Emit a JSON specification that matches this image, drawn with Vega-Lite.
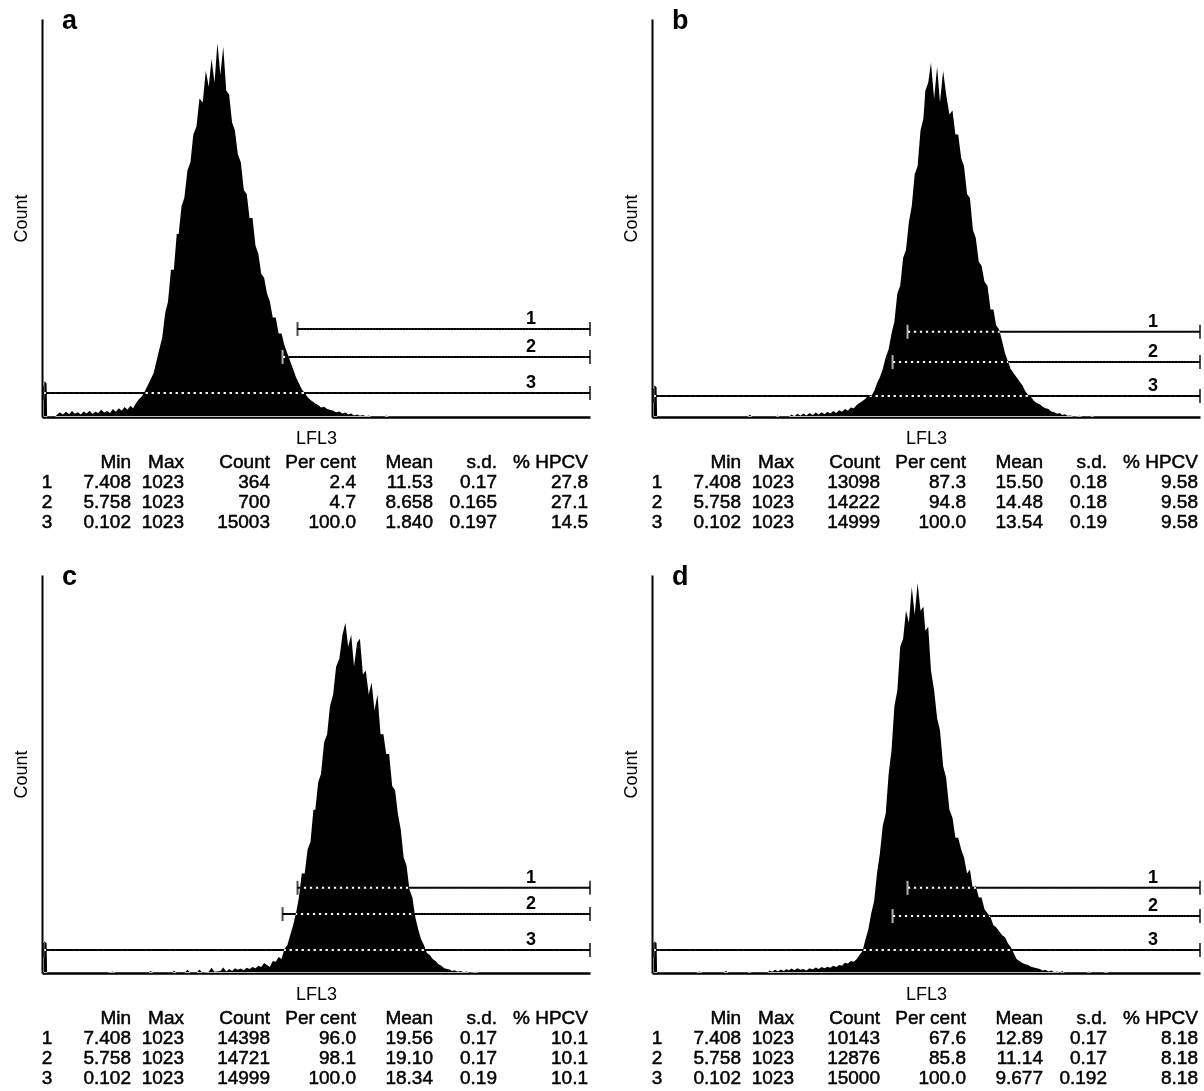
{
  "$schema": "https://vega.github.io/schema/vega-lite/v6.json",
  "background": "white",
  "padding": {"left": 12, "top": 7, "right": 2, "bottom": 2},
  "spacing": 31,
  "config": {
    "view": {"stroke": null},
    "font": "Liberation Sans",
    "axis": {"ticks": false, "labels": false, "grid": false, "domainColor": "black", "titleFontSize": 18, "titleFontWeight": "normal", "titleColor": "black", "titleFont": "Liberation Sans", "zindex": 1},
    "axisX": {"domainWidth": 2.5, "titlePadding": 12},
    "axisY": {"domainWidth": 2, "titlePadding": 12},
    "title": {"font": "Liberation Sans", "fontSize": 27, "fontWeight": "bold", "color": "black", "anchor": "start", "frame": "group", "dx": 20, "offset": -16, "baseline": "alphabetic"},
    "text": {"font": "Liberation Sans", "color": "black"}
  },
  "datasets": {
    "cols": [{"k":"n","ci":0},{"k":"min","ci":1},{"k":"max","ci":2},{"k":"cnt","ci":3},{"k":"pct","ci":4},{"k":"mean","ci":5},{"k":"sd","ci":6},{"k":"cv","ci":7}],
    "ga": [{"g":"1","min":7.408,"max":1023,"lvl":22.1},{"g":"2","min":5.758,"max":1023,"lvl":15.1},{"g":"3","min":0.102,"max":1023,"lvl":6.0}],
    "gb": [{"g":"1","min":7.408,"max":1023,"lvl":21.4},{"g":"2","min":5.758,"max":1023,"lvl":13.8},{"g":"3","min":0.102,"max":1023,"lvl":5.3}],
    "gc": [{"g":"1","min":7.408,"max":1023,"lvl":21.4},{"g":"2","min":5.758,"max":1023,"lvl":14.8},{"g":"3","min":0.102,"max":1023,"lvl":5.8}],
    "gd": [{"g":"1","min":7.408,"max":1023,"lvl":21.4},{"g":"2","min":5.758,"max":1023,"lvl":14.3},{"g":"3","min":0.102,"max":1023,"lvl":5.8}],
    "sa": [
      {"r":"h","n":"","min":"Min","max":"Max","cnt":"Count","pct":"Per cent","mean":"Mean","sd":"s.d.","cv":"% HPCV"},
      {"r":"1","n":"1","min":"7.408","max":"1023","cnt":"364","pct":"2.4","mean":"11.53","sd":"0.17","cv":"27.8"},
      {"r":"2","n":"2","min":"5.758","max":"1023","cnt":"700","pct":"4.7","mean":"8.658","sd":"0.165","cv":"27.1"},
      {"r":"3","n":"3","min":"0.102","max":"1023","cnt":"15003","pct":"100.0","mean":"1.840","sd":"0.197","cv":"14.5"}
    ],
    "sb": [
      {"r":"h","n":"","min":"Min","max":"Max","cnt":"Count","pct":"Per cent","mean":"Mean","sd":"s.d.","cv":"% HPCV"},
      {"r":"1","n":"1","min":"7.408","max":"1023","cnt":"13098","pct":"87.3","mean":"15.50","sd":"0.18","cv":"9.58"},
      {"r":"2","n":"2","min":"5.758","max":"1023","cnt":"14222","pct":"94.8","mean":"14.48","sd":"0.18","cv":"9.58"},
      {"r":"3","n":"3","min":"0.102","max":"1023","cnt":"14999","pct":"100.0","mean":"13.54","sd":"0.19","cv":"9.58"}
    ],
    "sc": [
      {"r":"h","n":"","min":"Min","max":"Max","cnt":"Count","pct":"Per cent","mean":"Mean","sd":"s.d.","cv":"% HPCV"},
      {"r":"1","n":"1","min":"7.408","max":"1023","cnt":"14398","pct":"96.0","mean":"19.56","sd":"0.17","cv":"10.1"},
      {"r":"2","n":"2","min":"5.758","max":"1023","cnt":"14721","pct":"98.1","mean":"19.10","sd":"0.17","cv":"10.1"},
      {"r":"3","n":"3","min":"0.102","max":"1023","cnt":"14999","pct":"100.0","mean":"18.34","sd":"0.19","cv":"10.1"}
    ],
    "sd": [
      {"r":"h","n":"","min":"Min","max":"Max","cnt":"Count","pct":"Per cent","mean":"Mean","sd":"s.d.","cv":"% HPCV"},
      {"r":"1","n":"1","min":"7.408","max":"1023","cnt":"10143","pct":"67.6","mean":"12.89","sd":"0.17","cv":"8.18"},
      {"r":"2","n":"2","min":"5.758","max":"1023","cnt":"12876","pct":"85.8","mean":"11.14","sd":"0.17","cv":"8.18"},
      {"r":"3","n":"3","min":"0.102","max":"1023","cnt":"15000","pct":"100.0","mean":"9.677","sd":"0.192","cv":"8.18"}
    ],
    "ha": [{"v":0.1,"n":0},{"v":0.103,"n":0},{"v":0.104,"n":9},{"v":0.108,"n":8.5},{"v":0.109,"n":0},{"v":0.125,"n":0},{"v":0.128,"n":0.5},{"v":0.135,"n":1.2},{"v":0.142,"n":0.6},{"v":0.15,"n":1.3},{"v":0.158,"n":0.7},{"v":0.166,"n":1.5},{"v":0.174,"n":0.8},{"v":0.183,"n":1.2},{"v":0.192,"n":0.6},{"v":0.202,"n":1.4},{"v":0.212,"n":0.9},{"v":0.223,"n":1.6},{"v":0.234,"n":0.8},{"v":0.246,"n":1.3},{"v":0.258,"n":1.0},{"v":0.271,"n":1.8},{"v":0.285,"n":1.1},{"v":0.3,"n":1.5},{"v":0.315,"n":1.0},{"v":0.33,"n":2.0},{"v":0.347,"n":1.3},{"v":0.365,"n":2.2},{"v":0.383,"n":1.6},{"v":0.402,"n":2.5},{"v":0.422,"n":1.8},{"v":0.443,"n":2.8},{"v":0.465,"n":2.2},{"v":0.488,"n":3.5},{"v":0.513,"n":4.5},{"v":0.539,"n":5.2},{"v":0.566,"n":6.5},{"v":0.594,"n":8},{"v":0.624,"n":9.5},{"v":0.655,"n":11},{"v":0.688,"n":14},{"v":0.722,"n":17},{"v":0.758,"n":20},{"v":0.796,"n":26},{"v":0.836,"n":29},{"v":0.878,"n":37},{"v":0.922,"n":37},{"v":0.968,"n":46},{"v":1.0,"n":46},{"v":1.05,"n":53},{"v":1.1,"n":55},{"v":1.16,"n":62},{"v":1.22,"n":64},{"v":1.28,"n":71},{"v":1.35,"n":73},{"v":1.42,"n":80},{"v":1.5,"n":79},{"v":1.58,"n":87},{"v":1.66,"n":83},{"v":1.74,"n":90},{"v":1.83,"n":84},{"v":1.92,"n":94},{"v":2.02,"n":86},{"v":2.12,"n":93},{"v":2.23,"n":82},{"v":2.34,"n":81},{"v":2.46,"n":74},{"v":2.58,"n":72},{"v":2.71,"n":66},{"v":2.85,"n":64},{"v":3.0,"n":57},{"v":3.15,"n":56},{"v":3.3,"n":50},{"v":3.47,"n":50},{"v":3.65,"n":43},{"v":3.83,"n":41},{"v":4.02,"n":36},{"v":4.22,"n":35},{"v":4.43,"n":31},{"v":4.65,"n":29},{"v":4.88,"n":25},{"v":5.13,"n":25},{"v":5.39,"n":21},{"v":5.66,"n":21},{"v":5.94,"n":18},{"v":6.24,"n":16},{"v":6.55,"n":14},{"v":6.88,"n":12},{"v":7.22,"n":10},{"v":7.58,"n":8.5},{"v":7.96,"n":7},{"v":8.36,"n":6},{"v":8.78,"n":5},{"v":9.22,"n":4.3},{"v":9.68,"n":3.8},{"v":10,"n":3.3},{"v":10.5,"n":3.0},{"v":11,"n":2.4},{"v":11.6,"n":2.6},{"v":12.2,"n":2.0},{"v":12.8,"n":1.8},{"v":13.5,"n":1.6},{"v":14.2,"n":1.2},{"v":15,"n":1.4},{"v":15.8,"n":0.9},{"v":16.6,"n":1.1},{"v":17.4,"n":0.6},{"v":18.3,"n":0.9},{"v":19.2,"n":0.4},{"v":20.2,"n":0.6},{"v":21.2,"n":0.3},{"v":22.3,"n":0.5},{"v":23.4,"n":0.2},{"v":24.6,"n":0.4},{"v":25.8,"n":0},{"v":32,"n":0},{"v":33,"n":0.4},{"v":34.7,"n":0},{"v":1023,"n":0}],
    "hb": [{"v":0.1,"n":0},{"v":0.103,"n":0},{"v":0.104,"n":8},{"v":0.108,"n":7.5},{"v":0.109,"n":0},{"v":0.5,"n":0},{"v":0.52,"n":0.6},{"v":0.54,"n":0},{"v":0.8,"n":0},{"v":0.83,"n":0.4},{"v":0.86,"n":0},{"v":1.0,"n":0},{"v":1.05,"n":0.6},{"v":1.1,"n":0.2},{"v":1.16,"n":0.8},{"v":1.22,"n":0.3},{"v":1.28,"n":0.9},{"v":1.35,"n":0.4},{"v":1.42,"n":1.0},{"v":1.5,"n":0.5},{"v":1.58,"n":1.1},{"v":1.66,"n":0.6},{"v":1.74,"n":1.2},{"v":1.83,"n":0.7},{"v":1.92,"n":1.3},{"v":2.02,"n":0.9},{"v":2.12,"n":1.5},{"v":2.23,"n":1.0},{"v":2.34,"n":1.7},{"v":2.46,"n":1.3},{"v":2.58,"n":2.0},{"v":2.71,"n":1.6},{"v":2.85,"n":2.4},{"v":3.0,"n":2.2},{"v":3.15,"n":3.0},{"v":3.3,"n":3.5},{"v":3.47,"n":4.0},{"v":3.65,"n":4.6},{"v":3.83,"n":5.5},{"v":4.02,"n":5.2},{"v":4.22,"n":6.5},{"v":4.43,"n":8.5},{"v":4.65,"n":10},{"v":4.88,"n":12},{"v":5.13,"n":15},{"v":5.39,"n":17},{"v":5.66,"n":21},{"v":5.94,"n":24},{"v":6.24,"n":31},{"v":6.55,"n":33},{"v":6.88,"n":40},{"v":7.22,"n":42},{"v":7.58,"n":49},{"v":7.96,"n":53},{"v":8.36,"n":61},{"v":8.78,"n":63},{"v":9.22,"n":72},{"v":9.68,"n":75},{"v":10,"n":82},{"v":10.5,"n":84},{"v":11,"n":89},{"v":11.6,"n":80},{"v":12.2,"n":88},{"v":12.8,"n":79},{"v":13.5,"n":87},{"v":14.2,"n":81},{"v":15,"n":76},{"v":15.8,"n":77},{"v":16.6,"n":71},{"v":17.4,"n":71},{"v":18.3,"n":65},{"v":19.2,"n":63},{"v":20.2,"n":56},{"v":21.2,"n":55},{"v":22.3,"n":47},{"v":23.4,"n":45},{"v":24.6,"n":39},{"v":25.8,"n":38},{"v":27.1,"n":34},{"v":28.5,"n":33},{"v":30,"n":27},{"v":31.5,"n":27},{"v":33,"n":23},{"v":34.7,"n":22},{"v":36.5,"n":19},{"v":38.3,"n":16},{"v":40.2,"n":14},{"v":42.2,"n":12},{"v":44.3,"n":11},{"v":46.5,"n":10},{"v":48.8,"n":9},{"v":51.3,"n":8},{"v":53.9,"n":6.5},{"v":56.6,"n":5.5},{"v":59.4,"n":5},{"v":62.4,"n":4},{"v":65.5,"n":3.5},{"v":68.8,"n":3.2},{"v":72.2,"n":2.6},{"v":75.8,"n":2.2},{"v":79.6,"n":2.0},{"v":83.6,"n":1.4},{"v":87.8,"n":1.2},{"v":92.2,"n":0.8},{"v":96.8,"n":1.0},{"v":100,"n":0.5},{"v":105,"n":0.7},{"v":110,"n":0.3},{"v":116,"n":0.4},{"v":122,"n":0},{"v":135,"n":0.3},{"v":142,"n":0},{"v":160,"n":0},{"v":166,"n":0.3},{"v":174,"n":0},{"v":1023,"n":0}],
    "hc": [{"v":0.1,"n":0},{"v":0.103,"n":0},{"v":0.104,"n":8},{"v":0.108,"n":7.5},{"v":0.109,"n":0},{"v":0.3,"n":0},{"v":0.33,"n":0.4},{"v":0.347,"n":0},{"v":0.6,"n":0},{"v":0.624,"n":0.5},{"v":0.655,"n":0},{"v":0.9,"n":0},{"v":0.922,"n":0.6},{"v":0.968,"n":0},{"v":1.1,"n":0},{"v":1.16,"n":0.8},{"v":1.22,"n":0},{"v":1.35,"n":0},{"v":1.42,"n":0.9},{"v":1.5,"n":0},{"v":1.66,"n":0.3},{"v":1.74,"n":1.3},{"v":1.83,"n":0.3},{"v":2.02,"n":0.5},{"v":2.12,"n":1.4},{"v":2.23,"n":0.4},{"v":2.34,"n":1.0},{"v":2.46,"n":0.5},{"v":2.58,"n":1.2},{"v":2.71,"n":0.8},{"v":2.85,"n":1.1},{"v":3.0,"n":0.7},{"v":3.15,"n":1.3},{"v":3.3,"n":1.0},{"v":3.47,"n":1.5},{"v":3.65,"n":1.2},{"v":3.83,"n":1.8},{"v":4.02,"n":1.5},{"v":4.22,"n":2.5},{"v":4.43,"n":2.0},{"v":4.65,"n":1.5},{"v":4.88,"n":3.0},{"v":5.13,"n":2.8},{"v":5.39,"n":4},{"v":5.66,"n":3.5},{"v":5.94,"n":6},{"v":6.24,"n":7},{"v":6.55,"n":9.5},{"v":6.88,"n":12},{"v":7.22,"n":15},{"v":7.58,"n":19},{"v":7.96,"n":25},{"v":8.36,"n":25},{"v":8.78,"n":31},{"v":9.22,"n":33},{"v":9.68,"n":41},{"v":10,"n":41},{"v":10.5,"n":48},{"v":11,"n":50},{"v":11.6,"n":58},{"v":12.2,"n":60},{"v":12.8,"n":67},{"v":13.5,"n":70},{"v":14.2,"n":77},{"v":15,"n":79},{"v":15.8,"n":85},{"v":16.6,"n":88},{"v":17.4,"n":82},{"v":18.3,"n":85},{"v":19.2,"n":77},{"v":20.2,"n":83},{"v":21.2,"n":84},{"v":22.3,"n":75},{"v":23.4,"n":76},{"v":24.6,"n":70},{"v":25.8,"n":73},{"v":27.1,"n":66},{"v":28.5,"n":70},{"v":30,"n":60},{"v":31.5,"n":60},{"v":33,"n":55},{"v":34.7,"n":55},{"v":36.5,"n":47},{"v":38.3,"n":46},{"v":40.2,"n":40},{"v":42.2,"n":36},{"v":44.3,"n":29},{"v":46.5,"n":27},{"v":48.8,"n":21},{"v":51.3,"n":19},{"v":53.9,"n":14},{"v":56.6,"n":11},{"v":59.4,"n":8.5},{"v":62.4,"n":7},{"v":65.5,"n":5},{"v":68.8,"n":4.5},{"v":72.2,"n":3.5},{"v":75.8,"n":3.0},{"v":79.6,"n":2.2},{"v":83.6,"n":1.8},{"v":87.8,"n":1.2},{"v":92.2,"n":1.0},{"v":96.8,"n":0.8},{"v":100,"n":0.5},{"v":105,"n":0.7},{"v":110,"n":0.3},{"v":116,"n":0.5},{"v":122,"n":0.2},{"v":128,"n":0.4},{"v":135,"n":0},{"v":150,"n":0.3},{"v":158,"n":0},{"v":1023,"n":0}],
    "hd": [{"v":0.1,"n":0},{"v":0.103,"n":0},{"v":0.104,"n":8},{"v":0.108,"n":7.5},{"v":0.109,"n":0},{"v":0.21,"n":0},{"v":0.223,"n":0.4},{"v":0.234,"n":0},{"v":0.33,"n":0},{"v":0.347,"n":0.5},{"v":0.365,"n":0},{"v":0.5,"n":0},{"v":0.513,"n":0.3},{"v":0.539,"n":0},{"v":0.7,"n":0},{"v":0.722,"n":0.6},{"v":0.758,"n":0.3},{"v":0.796,"n":0.8},{"v":0.836,"n":0.4},{"v":0.878,"n":0.9},{"v":0.922,"n":0.5},{"v":0.968,"n":1.0},{"v":1.0,"n":0.6},{"v":1.05,"n":1.1},{"v":1.1,"n":0.7},{"v":1.16,"n":1.2},{"v":1.22,"n":0.8},{"v":1.28,"n":1.0},{"v":1.35,"n":0.6},{"v":1.42,"n":1.2},{"v":1.5,"n":0.9},{"v":1.58,"n":1.4},{"v":1.66,"n":1.0},{"v":1.74,"n":1.5},{"v":1.83,"n":1.2},{"v":1.92,"n":1.6},{"v":2.02,"n":1.3},{"v":2.12,"n":1.8},{"v":2.23,"n":1.5},{"v":2.34,"n":2.0},{"v":2.46,"n":1.8},{"v":2.58,"n":2.6},{"v":2.71,"n":2.4},{"v":2.85,"n":3.0},{"v":3.0,"n":2.8},{"v":3.15,"n":3.5},{"v":3.3,"n":4.5},{"v":3.47,"n":5.5},{"v":3.65,"n":8.5},{"v":3.83,"n":11},{"v":4.02,"n":15},{"v":4.22,"n":18},{"v":4.43,"n":25},{"v":4.65,"n":30},{"v":4.88,"n":37},{"v":5.13,"n":40},{"v":5.39,"n":50},{"v":5.66,"n":56},{"v":5.94,"n":67},{"v":6.24,"n":71},{"v":6.55,"n":82},{"v":6.88,"n":84},{"v":7.22,"n":91},{"v":7.58,"n":88},{"v":7.96,"n":97},{"v":8.36,"n":90},{"v":8.78,"n":98},{"v":9.22,"n":91},{"v":9.68,"n":92},{"v":10,"n":86},{"v":10.5,"n":87},{"v":11,"n":76},{"v":11.6,"n":71},{"v":12.2,"n":64},{"v":12.8,"n":61},{"v":13.5,"n":52},{"v":14.2,"n":49},{"v":15,"n":41},{"v":15.8,"n":39},{"v":16.6,"n":34},{"v":17.4,"n":34},{"v":18.3,"n":31},{"v":19.2,"n":29},{"v":20.2,"n":25},{"v":21.2,"n":26},{"v":22.3,"n":21},{"v":23.4,"n":22},{"v":24.6,"n":19},{"v":25.8,"n":19},{"v":27.1,"n":16},{"v":28.5,"n":15},{"v":30,"n":14},{"v":31.5,"n":12},{"v":33,"n":11.5},{"v":34.7,"n":10.5},{"v":36.5,"n":9.5},{"v":38.3,"n":9},{"v":40.2,"n":7.5},{"v":42.2,"n":6.5},{"v":44.3,"n":5},{"v":46.5,"n":3.5},{"v":48.8,"n":3},{"v":51.3,"n":2.5},{"v":53.9,"n":2.2},{"v":56.6,"n":2.0},{"v":59.4,"n":1.6},{"v":62.4,"n":1.4},{"v":65.5,"n":1.2},{"v":68.8,"n":1.0},{"v":72.2,"n":0.6},{"v":75.8,"n":0.8},{"v":79.6,"n":0.4},{"v":83.6,"n":0.6},{"v":87.8,"n":0.2},{"v":92.2,"n":0.4},{"v":96.8,"n":0},{"v":100,"n":0.5},{"v":105,"n":0},{"v":150,"n":0},{"v":158,"n":0.4},{"v":166,"n":0},{"v":200,"n":0},{"v":210,"n":0.3},{"v":223,"n":0},{"v":1023,"n":0}]
  },
  "vconcat": [
    {
      "spacing": 31,
      "hconcat": [
        {
          "bounds": "flush",
          "spacing": 35,
          "vconcat": [
            {
              "width": 548, "height": 398,
              "title": {"text": "a"},
              "layer": [
                {"data": {"name": "ga"}, "mark": {"type": "rule", "color": "black", "strokeWidth": 2, "strokeDash": [3, 3]}, "encoding": {"x": {"field": "min", "type": "quantitative", "scale": {"type": "log", "domain": [0.1, 1023], "nice": false}, "axis": {"title": "LFL3"}}, "x2": {"field": "max"}, "y": {"field": "lvl", "type": "quantitative", "scale": {"domain": [0, 100], "nice": false}, "axis": {"title": "Count"}}}},
                {"data": {"name": "ga"}, "mark": {"type": "tick", "orient": "vertical", "color": "black", "size": 14, "thickness": 2}, "encoding": {"x": {"field": "min", "type": "quantitative", "scale": {"type": "log", "domain": [0.1, 1023], "nice": false}, "axis": {"title": "LFL3"}}, "y": {"field": "lvl", "type": "quantitative", "scale": {"domain": [0, 100], "nice": false}, "axis": {"title": "Count"}}}},
                {"data": {"name": "ga"}, "mark": {"type": "tick", "orient": "vertical", "color": "black", "size": 14, "thickness": 2}, "encoding": {"x": {"field": "max", "type": "quantitative", "scale": {"type": "log", "domain": [0.1, 1023], "nice": false}, "axis": {"title": "LFL3"}}, "y": {"field": "lvl", "type": "quantitative", "scale": {"domain": [0, 100], "nice": false}, "axis": {"title": "Count"}}}},
                {"data": {"name": "ha"}, "mark": {"type": "area", "color": "white", "opacity": 1, "blend": "difference", "interpolate": "linear"}, "encoding": {"x": {"field": "v", "type": "quantitative", "scale": {"type": "log", "domain": [0.1, 1023], "nice": false}, "axis": {"title": "LFL3"}}, "y": {"field": "n", "type": "quantitative", "scale": {"domain": [0, 100], "nice": false}, "axis": {"title": "Count"}}}},
                {"data": {"name": "ga"}, "mark": {"type": "rule", "color": "black", "strokeWidth": 2, "strokeDash": [3.6, 2.4], "strokeDashOffset": 3.3}, "encoding": {"x": {"field": "min", "type": "quantitative", "scale": {"type": "log", "domain": [0.1, 1023], "nice": false}, "axis": {"title": "LFL3"}}, "x2": {"field": "max"}, "y": {"field": "lvl", "type": "quantitative", "scale": {"domain": [0, 100], "nice": false}, "axis": {"title": "Count"}}}},
                {"data": {"name": "ga"}, "mark": {"type": "text", "fontSize": 18, "fontWeight": "bold", "baseline": "bottom", "align": "center", "dx": -59, "dy": -1}, "encoding": {"x": {"field": "max", "type": "quantitative", "scale": {"type": "log", "domain": [0.1, 1023], "nice": false}, "axis": {"title": "LFL3"}}, "y": {"field": "lvl", "type": "quantitative", "scale": {"domain": [0, 100], "nice": false}, "axis": {"title": "Count"}}, "text": {"field": "g"}}}
              ]
            },
            {
              "width": 548, "height": 80,
              "data": {"name": "sa"},
              "transform": [
                {"fold": ["n", "min", "max", "cnt", "pct", "mean", "sd", "cv"], "as": ["k", "t"]},
                {"lookup": "k", "from": {"data": {"name": "cols"}, "key": "k", "fields": ["ci"]}}
              ],
              "encoding": {
                "x": {"field": "ci", "type": "quantitative", "scale": {"domain": [0, 1, 2, 3, 4, 5, 6, 7], "range": [5, 89, 142, 228, 314, 391, 455, 546], "nice": false, "zero": false}, "axis": null},
                "y": {"field": "r", "type": "nominal", "scale": {"type": "point", "domain": ["h", "1", "2", "3"], "padding": 0.5}, "axis": null},
                "text": {"field": "t"}
              },
              "layer": [
                {"transform": [{"filter": "datum.k == 'n'"}], "mark": {"type": "text", "align": "center", "baseline": "middle", "fontSize": 19, "stroke": "black", "strokeWidth": 0.5}},
                {"transform": [{"filter": "datum.k != 'n'"}], "mark": {"type": "text", "align": "right", "baseline": "middle", "fontSize": 19, "stroke": "black", "strokeWidth": 0.5}}
              ]
            }
          ]
        },
        {
          "bounds": "flush",
          "spacing": 35,
          "vconcat": [
            {
              "width": 548, "height": 398,
              "title": {"text": "b"},
              "layer": [
                {"data": {"name": "gb"}, "mark": {"type": "rule", "color": "black", "strokeWidth": 2, "strokeDash": [3, 3]}, "encoding": {"x": {"field": "min", "type": "quantitative", "scale": {"type": "log", "domain": [0.1, 1023], "nice": false}, "axis": {"title": "LFL3"}}, "x2": {"field": "max"}, "y": {"field": "lvl", "type": "quantitative", "scale": {"domain": [0, 100], "nice": false}, "axis": {"title": "Count"}}}},
                {"data": {"name": "gb"}, "mark": {"type": "tick", "orient": "vertical", "color": "black", "size": 14, "thickness": 2}, "encoding": {"x": {"field": "min", "type": "quantitative", "scale": {"type": "log", "domain": [0.1, 1023], "nice": false}, "axis": {"title": "LFL3"}}, "y": {"field": "lvl", "type": "quantitative", "scale": {"domain": [0, 100], "nice": false}, "axis": {"title": "Count"}}}},
                {"data": {"name": "gb"}, "mark": {"type": "tick", "orient": "vertical", "color": "black", "size": 14, "thickness": 2}, "encoding": {"x": {"field": "max", "type": "quantitative", "scale": {"type": "log", "domain": [0.1, 1023], "nice": false}, "axis": {"title": "LFL3"}}, "y": {"field": "lvl", "type": "quantitative", "scale": {"domain": [0, 100], "nice": false}, "axis": {"title": "Count"}}}},
                {"data": {"name": "hb"}, "mark": {"type": "area", "color": "white", "opacity": 1, "blend": "difference", "interpolate": "linear"}, "encoding": {"x": {"field": "v", "type": "quantitative", "scale": {"type": "log", "domain": [0.1, 1023], "nice": false}, "axis": {"title": "LFL3"}}, "y": {"field": "n", "type": "quantitative", "scale": {"domain": [0, 100], "nice": false}, "axis": {"title": "Count"}}}},
                {"data": {"name": "gb"}, "mark": {"type": "rule", "color": "black", "strokeWidth": 2, "strokeDash": [3.6, 2.4], "strokeDashOffset": 3.3}, "encoding": {"x": {"field": "min", "type": "quantitative", "scale": {"type": "log", "domain": [0.1, 1023], "nice": false}, "axis": {"title": "LFL3"}}, "x2": {"field": "max"}, "y": {"field": "lvl", "type": "quantitative", "scale": {"domain": [0, 100], "nice": false}, "axis": {"title": "Count"}}}},
                {"data": {"name": "gb"}, "mark": {"type": "text", "fontSize": 18, "fontWeight": "bold", "baseline": "bottom", "align": "center", "dx": -47, "dy": -1}, "encoding": {"x": {"field": "max", "type": "quantitative", "scale": {"type": "log", "domain": [0.1, 1023], "nice": false}, "axis": {"title": "LFL3"}}, "y": {"field": "lvl", "type": "quantitative", "scale": {"domain": [0, 100], "nice": false}, "axis": {"title": "Count"}}, "text": {"field": "g"}}}
              ]
            },
            {
              "width": 548, "height": 80,
              "data": {"name": "sb"},
              "transform": [
                {"fold": ["n", "min", "max", "cnt", "pct", "mean", "sd", "cv"], "as": ["k", "t"]},
                {"lookup": "k", "from": {"data": {"name": "cols"}, "key": "k", "fields": ["ci"]}}
              ],
              "encoding": {
                "x": {"field": "ci", "type": "quantitative", "scale": {"domain": [0, 1, 2, 3, 4, 5, 6, 7], "range": [5, 89, 142, 228, 314, 391, 455, 546], "nice": false, "zero": false}, "axis": null},
                "y": {"field": "r", "type": "nominal", "scale": {"type": "point", "domain": ["h", "1", "2", "3"], "padding": 0.5}, "axis": null},
                "text": {"field": "t"}
              },
              "layer": [
                {"transform": [{"filter": "datum.k == 'n'"}], "mark": {"type": "text", "align": "center", "baseline": "middle", "fontSize": 19, "stroke": "black", "strokeWidth": 0.5}},
                {"transform": [{"filter": "datum.k != 'n'"}], "mark": {"type": "text", "align": "right", "baseline": "middle", "fontSize": 19, "stroke": "black", "strokeWidth": 0.5}}
              ]
            }
          ]
        }
      ]
    },
    {
      "spacing": 31,
      "hconcat": [
        {
          "bounds": "flush",
          "spacing": 35,
          "vconcat": [
            {
              "width": 548, "height": 398,
              "title": {"text": "c"},
              "layer": [
                {"data": {"name": "gc"}, "mark": {"type": "rule", "color": "black", "strokeWidth": 2, "strokeDash": [3, 3]}, "encoding": {"x": {"field": "min", "type": "quantitative", "scale": {"type": "log", "domain": [0.1, 1023], "nice": false}, "axis": {"title": "LFL3"}}, "x2": {"field": "max"}, "y": {"field": "lvl", "type": "quantitative", "scale": {"domain": [0, 100], "nice": false}, "axis": {"title": "Count"}}}},
                {"data": {"name": "gc"}, "mark": {"type": "tick", "orient": "vertical", "color": "black", "size": 14, "thickness": 2}, "encoding": {"x": {"field": "min", "type": "quantitative", "scale": {"type": "log", "domain": [0.1, 1023], "nice": false}, "axis": {"title": "LFL3"}}, "y": {"field": "lvl", "type": "quantitative", "scale": {"domain": [0, 100], "nice": false}, "axis": {"title": "Count"}}}},
                {"data": {"name": "gc"}, "mark": {"type": "tick", "orient": "vertical", "color": "black", "size": 14, "thickness": 2}, "encoding": {"x": {"field": "max", "type": "quantitative", "scale": {"type": "log", "domain": [0.1, 1023], "nice": false}, "axis": {"title": "LFL3"}}, "y": {"field": "lvl", "type": "quantitative", "scale": {"domain": [0, 100], "nice": false}, "axis": {"title": "Count"}}}},
                {"data": {"name": "hc"}, "mark": {"type": "area", "color": "white", "opacity": 1, "blend": "difference", "interpolate": "linear"}, "encoding": {"x": {"field": "v", "type": "quantitative", "scale": {"type": "log", "domain": [0.1, 1023], "nice": false}, "axis": {"title": "LFL3"}}, "y": {"field": "n", "type": "quantitative", "scale": {"domain": [0, 100], "nice": false}, "axis": {"title": "Count"}}}},
                {"data": {"name": "gc"}, "mark": {"type": "rule", "color": "black", "strokeWidth": 2, "strokeDash": [3.6, 2.4], "strokeDashOffset": 3.3}, "encoding": {"x": {"field": "min", "type": "quantitative", "scale": {"type": "log", "domain": [0.1, 1023], "nice": false}, "axis": {"title": "LFL3"}}, "x2": {"field": "max"}, "y": {"field": "lvl", "type": "quantitative", "scale": {"domain": [0, 100], "nice": false}, "axis": {"title": "Count"}}}},
                {"data": {"name": "gc"}, "mark": {"type": "text", "fontSize": 18, "fontWeight": "bold", "baseline": "bottom", "align": "center", "dx": -59, "dy": -1}, "encoding": {"x": {"field": "max", "type": "quantitative", "scale": {"type": "log", "domain": [0.1, 1023], "nice": false}, "axis": {"title": "LFL3"}}, "y": {"field": "lvl", "type": "quantitative", "scale": {"domain": [0, 100], "nice": false}, "axis": {"title": "Count"}}, "text": {"field": "g"}}}
              ]
            },
            {
              "width": 548, "height": 80,
              "data": {"name": "sc"},
              "transform": [
                {"fold": ["n", "min", "max", "cnt", "pct", "mean", "sd", "cv"], "as": ["k", "t"]},
                {"lookup": "k", "from": {"data": {"name": "cols"}, "key": "k", "fields": ["ci"]}}
              ],
              "encoding": {
                "x": {"field": "ci", "type": "quantitative", "scale": {"domain": [0, 1, 2, 3, 4, 5, 6, 7], "range": [5, 89, 142, 228, 314, 391, 455, 546], "nice": false, "zero": false}, "axis": null},
                "y": {"field": "r", "type": "nominal", "scale": {"type": "point", "domain": ["h", "1", "2", "3"], "padding": 0.5}, "axis": null},
                "text": {"field": "t"}
              },
              "layer": [
                {"transform": [{"filter": "datum.k == 'n'"}], "mark": {"type": "text", "align": "center", "baseline": "middle", "fontSize": 19, "stroke": "black", "strokeWidth": 0.5}},
                {"transform": [{"filter": "datum.k != 'n'"}], "mark": {"type": "text", "align": "right", "baseline": "middle", "fontSize": 19, "stroke": "black", "strokeWidth": 0.5}}
              ]
            }
          ]
        },
        {
          "bounds": "flush",
          "spacing": 35,
          "vconcat": [
            {
              "width": 548, "height": 398,
              "title": {"text": "d"},
              "layer": [
                {"data": {"name": "gd"}, "mark": {"type": "rule", "color": "black", "strokeWidth": 2, "strokeDash": [3, 3]}, "encoding": {"x": {"field": "min", "type": "quantitative", "scale": {"type": "log", "domain": [0.1, 1023], "nice": false}, "axis": {"title": "LFL3"}}, "x2": {"field": "max"}, "y": {"field": "lvl", "type": "quantitative", "scale": {"domain": [0, 100], "nice": false}, "axis": {"title": "Count"}}}},
                {"data": {"name": "gd"}, "mark": {"type": "tick", "orient": "vertical", "color": "black", "size": 14, "thickness": 2}, "encoding": {"x": {"field": "min", "type": "quantitative", "scale": {"type": "log", "domain": [0.1, 1023], "nice": false}, "axis": {"title": "LFL3"}}, "y": {"field": "lvl", "type": "quantitative", "scale": {"domain": [0, 100], "nice": false}, "axis": {"title": "Count"}}}},
                {"data": {"name": "gd"}, "mark": {"type": "tick", "orient": "vertical", "color": "black", "size": 14, "thickness": 2}, "encoding": {"x": {"field": "max", "type": "quantitative", "scale": {"type": "log", "domain": [0.1, 1023], "nice": false}, "axis": {"title": "LFL3"}}, "y": {"field": "lvl", "type": "quantitative", "scale": {"domain": [0, 100], "nice": false}, "axis": {"title": "Count"}}}},
                {"data": {"name": "hd"}, "mark": {"type": "area", "color": "white", "opacity": 1, "blend": "difference", "interpolate": "linear"}, "encoding": {"x": {"field": "v", "type": "quantitative", "scale": {"type": "log", "domain": [0.1, 1023], "nice": false}, "axis": {"title": "LFL3"}}, "y": {"field": "n", "type": "quantitative", "scale": {"domain": [0, 100], "nice": false}, "axis": {"title": "Count"}}}},
                {"data": {"name": "gd"}, "mark": {"type": "rule", "color": "black", "strokeWidth": 2, "strokeDash": [3.6, 2.4], "strokeDashOffset": 3.3}, "encoding": {"x": {"field": "min", "type": "quantitative", "scale": {"type": "log", "domain": [0.1, 1023], "nice": false}, "axis": {"title": "LFL3"}}, "x2": {"field": "max"}, "y": {"field": "lvl", "type": "quantitative", "scale": {"domain": [0, 100], "nice": false}, "axis": {"title": "Count"}}}},
                {"data": {"name": "gd"}, "mark": {"type": "text", "fontSize": 18, "fontWeight": "bold", "baseline": "bottom", "align": "center", "dx": -47, "dy": -1}, "encoding": {"x": {"field": "max", "type": "quantitative", "scale": {"type": "log", "domain": [0.1, 1023], "nice": false}, "axis": {"title": "LFL3"}}, "y": {"field": "lvl", "type": "quantitative", "scale": {"domain": [0, 100], "nice": false}, "axis": {"title": "Count"}}, "text": {"field": "g"}}}
              ]
            },
            {
              "width": 548, "height": 80,
              "data": {"name": "sd"},
              "transform": [
                {"fold": ["n", "min", "max", "cnt", "pct", "mean", "sd", "cv"], "as": ["k", "t"]},
                {"lookup": "k", "from": {"data": {"name": "cols"}, "key": "k", "fields": ["ci"]}}
              ],
              "encoding": {
                "x": {"field": "ci", "type": "quantitative", "scale": {"domain": [0, 1, 2, 3, 4, 5, 6, 7], "range": [5, 89, 142, 228, 314, 391, 455, 546], "nice": false, "zero": false}, "axis": null},
                "y": {"field": "r", "type": "nominal", "scale": {"type": "point", "domain": ["h", "1", "2", "3"], "padding": 0.5}, "axis": null},
                "text": {"field": "t"}
              },
              "layer": [
                {"transform": [{"filter": "datum.k == 'n'"}], "mark": {"type": "text", "align": "center", "baseline": "middle", "fontSize": 19, "stroke": "black", "strokeWidth": 0.5}},
                {"transform": [{"filter": "datum.k != 'n'"}], "mark": {"type": "text", "align": "right", "baseline": "middle", "fontSize": 19, "stroke": "black", "strokeWidth": 0.5}}
              ]
            }
          ]
        }
      ]
    }
  ]
}
